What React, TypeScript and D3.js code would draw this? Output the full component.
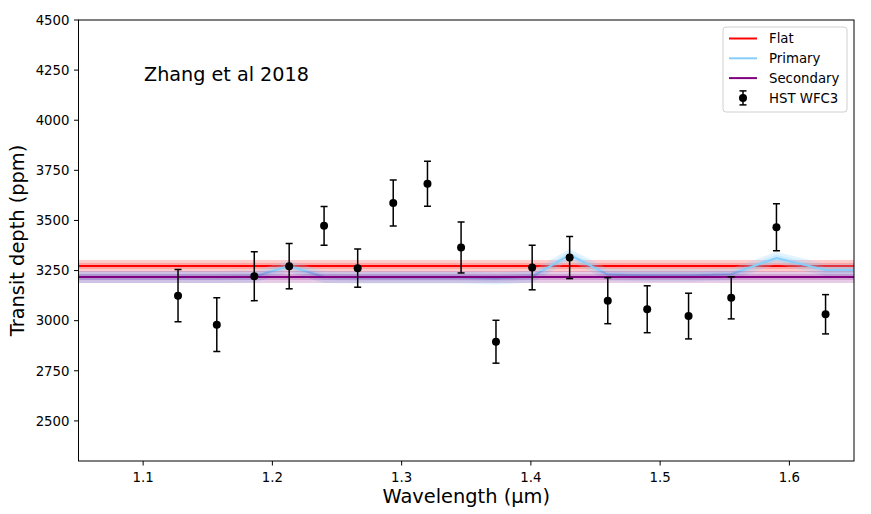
import React from 'react';
import * as d3 from 'd3';

// HST WFC3 transit spectrum (Zhang et al 2018)
const wavelength = [1.127, 1.157, 1.186, 1.213, 1.24, 1.266, 1.2935, 1.32, 1.346, 1.373, 1.401, 1.43, 1.4595, 1.49, 1.522, 1.555, 1.59, 1.628];
const depth = [3125, 2980, 3222, 3272, 3473, 3262, 3587, 3683, 3365, 2895, 3265, 3315, 3100, 3057, 3023, 3114, 3466, 3032];
const depthErr = [130, 134, 122, 113, 97, 95, 115, 112, 127, 107, 111, 105, 115, 117, 114, 105, 117, 98];

// model curves
const modelWavelength = [1.05, ...wavelength, 1.65];
const primary = [3218, 3218, 3218, 3220, 3272, 3218, 3215, 3215, 3215, 3215, 3210, 3220, 3328, 3230, 3226, 3226, 3232, 3313, 3253, 3253];
const primaryErr = 30;
const flat = 3273;
const flatErr = 30;
const secondary = 3218;
const secondaryErr = 30;

const xTicks = [1.1, 1.2, 1.3, 1.4, 1.5, 1.6];
const yTicks = [2500, 2750, 3000, 3250, 3500, 3750, 4000, 4250, 4500];

const legendItems = ['Flat', 'Primary', 'Secondary', 'HST WFC3'];

const W = 871;
const H = 514;
const m = { left: 78.5, right: 854, top: 20, bottom: 461 };
const font = 'DejaVu Sans, sans-serif';

export default function App() {
  const x = d3.scaleLinear().domain([1.05, 1.65]).range([m.left, m.right]);
  const y = d3.scaleLinear().domain([2300, 4500]).range([m.bottom, m.top]);

  const line = d3.line<number>()
    .x((_, i) => x(modelWavelength[i]))
    .y((d) => y(d));
  const band = (k: number) =>
    d3.area<number>()
      .x((_, i) => x(modelWavelength[i]))
      .y0((d) => y(d - k))
      .y1((d) => y(d + k));

  const hband = (v: number, k: number, color: string, key: string) => (
    <rect key={key} x={m.left} width={m.right - m.left} y={y(v + k)} height={y(v - k) - y(v + k)} fill={color} opacity={0.2} />
  );

  const legendColors = ['#ff0000', '#87cefa', '#800080'];

  return (
    <svg width={W} height={H} style={{ position: 'absolute', left: 0, top: 0, background: '#fff' }} fontFamily={font}>
      <defs>
        <clipPath id="plot">
          <rect x={m.left} y={m.top} width={m.right - m.left} height={m.bottom - m.top} />
        </clipPath>
      </defs>

      <g clipPath="url(#plot)">
        {hband(flat, flatErr, '#ff0000', 'f2')}
        {hband(flat, flatErr / 2, '#ff0000', 'f1')}
        <line x1={m.left} x2={m.right} y1={y(flat)} y2={y(flat)} stroke="#ff0000" strokeWidth={2} />

        <path d={band(primaryErr)(primary) || ''} fill="#87cefa" opacity={0.25} />
        <path d={band(primaryErr / 2)(primary) || ''} fill="#87cefa" opacity={0.25} />
        <path d={line(primary) || ''} fill="none" stroke="#87cefa" strokeWidth={2} />

        {hband(secondary, secondaryErr, '#800080', 's2')}
        {hband(secondary, secondaryErr / 2, '#800080', 's1')}
        <line x1={m.left} x2={m.right} y1={y(secondary)} y2={y(secondary)} stroke="#800080" strokeWidth={2} />

        {wavelength.map((w, i) => {
          const cx = x(w);
          const top = y(depth[i] + depthErr[i]);
          const bot = y(depth[i] - depthErr[i]);
          return (
            <g key={i} stroke="#000" strokeWidth={1.5}>
              <line x1={cx} x2={cx} y1={top} y2={bot} />
              <line x1={cx - 3.5} x2={cx + 3.5} y1={top} y2={top} />
              <line x1={cx - 3.5} x2={cx + 3.5} y1={bot} y2={bot} />
              <circle cx={cx} cy={y(depth[i])} r={4} fill="#000" stroke="none" />
            </g>
          );
        })}
      </g>

      {/* axes frame */}
      <rect x={m.left} y={m.top} width={m.right - m.left} height={m.bottom - m.top} fill="none" stroke="#000" strokeWidth={1} />

      {xTicks.map((t) => (
        <g key={t}>
          <line x1={x(t)} x2={x(t)} y1={m.bottom} y2={m.bottom + 4.5} stroke="#000" strokeWidth={1} />
          <text x={x(t)} y={m.bottom + 21} textAnchor="middle" fontSize={13.3}>{t.toFixed(1)}</text>
        </g>
      ))}
      {yTicks.map((t) => (
        <g key={t}>
          <line x1={m.left - 4.5} x2={m.left} y1={y(t)} y2={y(t)} stroke="#000" strokeWidth={1} />
          <text x={m.left - 9} y={y(t) + 4.8} textAnchor="end" fontSize={13.3}>{t}</text>
        </g>
      ))}

      <text x={(m.left + m.right) / 2} y={503} textAnchor="middle" fontSize={19.4}>Wavelength (µm)</text>
      <text transform={`translate(24, ${(m.top + m.bottom) / 2}) rotate(-90)`} textAnchor="middle" fontSize={19.4}>Transit depth (ppm)</text>

      <text x={144} y={81} fontSize={19.2}>Zhang et al 2018</text>

      {/* legend */}
      <rect x={723} y={27} width={124} height={85} rx={3} fill="#fff" fillOpacity={0.8} stroke="#d0d0d0" strokeWidth={1} />
      {legendItems.map((name, i) => {
        const ly = 38.5 + i * 19.8;
        return (
          <g key={name}>
            {i < 3 ? (
              <line x1={729} x2={757} y1={ly} y2={ly} stroke={legendColors[i]} strokeWidth={2} />
            ) : (
              <g stroke="#000" strokeWidth={1.5}>
                <line x1={743} x2={743} y1={ly - 7} y2={ly + 7} />
                <line x1={739.5} x2={746.5} y1={ly - 7} y2={ly - 7} />
                <line x1={739.5} x2={746.5} y1={ly + 7} y2={ly + 7} />
                <circle cx={743} cy={ly} r={4} fill="#000" stroke="none" />
              </g>
            )}
            <text x={769} y={ly + 4.8} fontSize={13.3}>{name}</text>
          </g>
        );
      })}
    </svg>
  );
}
